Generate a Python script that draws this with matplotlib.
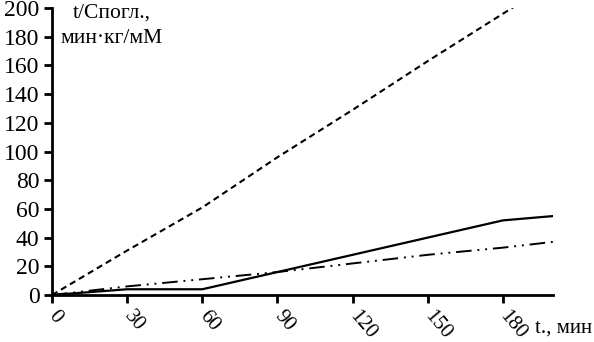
import matplotlib
matplotlib.use("Agg")
import matplotlib.pyplot as plt
import numpy as np

plt.rcParams['font.family'] = ['Liberation Serif', 'DejaVu Serif']

t = [0, 30, 60, 90, 120, 150, 180, 200]
dashed = [0, 31, 61, 96, 129, 163, 196, 218]
solid = [0, 4, 4, 16, 28, 40, 52, 55]
dashdot = [0, 6, 11, 16, 22, 28, 33, 37]

xticks = [0, 30, 60, 90, 120, 150, 180]
yticks = [0, 20, 40, 60, 80, 100, 120, 140, 160, 180, 200]

W, H = 594, 342
fig = plt.figure(figsize=(W / 100, H / 100), dpi=100)
ax = fig.add_axes([52 / W, 1 - 295 / H, (553 - 52) / W, (295 - 8) / H])

ax.plot(t, dashed, color='k', lw=1.5, linestyle=(0, (3, 2)))
ax.plot(t, solid, color='k', lw=1.6, linestyle='-')
ax.plot(t, dashdot, color='k', lw=1.4, linestyle=(0, (8, 3, 1, 3, 1, 3)))

ax.set_xlim(0, 200)
ax.set_ylim(0, 200)
ax.set_xticks(xticks)
ax.set_yticks(yticks)
ax.set_xticklabels([str(v) for v in xticks], rotation=-50, ha='left',
                   va='center', fontsize=15, rotation_mode='anchor')
ax.set_yticklabels([str(v) for v in yticks], fontsize=17)
ax.tick_params(direction='out', width=2, length=6, pad=3)
ax.tick_params(axis='x', pad=7)

for s in ['top', 'right']:
    ax.spines[s].set_visible(False)
for s in ['left', 'bottom']:
    ax.spines[s].set_linewidth(2)

fig.text(112 / W, 1 - 4 / H, "t/Cпогл.,\nмин·кг/мМ", ha='center', va='top',
         multialignment='center', fontsize=15.5, linespacing=1.4)
fig.text(535 / W, 1 - 328 / H, "t., мин", ha='left', va='center', fontsize=15)

fig.savefig("out.png", dpi=100)
